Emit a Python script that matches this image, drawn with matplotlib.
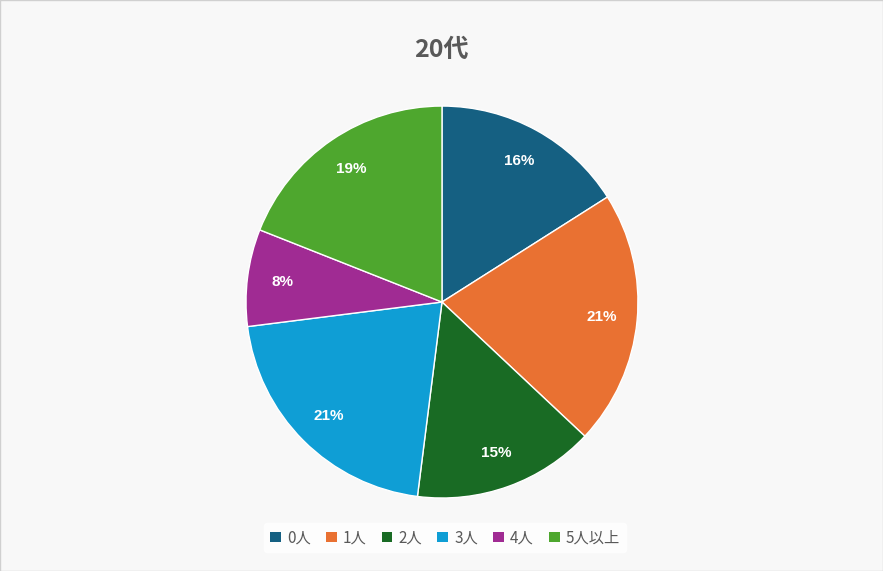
import matplotlib
matplotlib.use("Agg")
import matplotlib.pyplot as plt
from matplotlib.patches import Patch

plt.rcParams['font.family'] = ['Noto Sans CJK JP', 'DejaVu Sans']

title = "20代"
categories = ["0人", "1人", "2人", "3人", "4人", "5人以上"]
values = [16, 21, 15, 21, 8, 19]
colors = ["#156082", "#e97132", "#196b24", "#0f9ed5", "#a02b93", "#4ea72e"]

fig = plt.figure(figsize=(8.83, 5.71), dpi=100)
fig.patch.set_facecolor("#f8f8f8")
fig.add_artist(plt.Rectangle((0, 0), 1, 1, transform=fig.transFigure, fill=False,
                             edgecolor="#d0d0d0", lw=1))
ax = fig.add_axes([0.2786, 0.1278, 0.4439, 0.6865])
wedges, texts, autotexts = ax.pie(values, colors=colors, startangle=90, counterclock=False,
                                  autopct=lambda p: f"{p:.0f}%", pctdistance=0.82,
                                  radius=1, wedgeprops=dict(edgecolor="white", linewidth=1))
for t in autotexts:
    t.set_color("white"); t.set_fontweight("bold"); t.set_fontsize(11)
    t.set_family(['Liberation Sans', 'DejaVu Sans'])
ax.set_xlim(-1, 1); ax.set_ylim(-1, 1); ax.set_aspect('equal')
ax.axis('off')

fig.text(0.5, 0.912, title, ha='center', va='center', fontsize=18, fontweight='bold', color="#595959")

handles = [Patch(facecolor=c, label=l) for c, l in zip(colors, categories)]
leg = fig.legend(handles=handles, loc='center', bbox_to_anchor=(0.504, 0.058), ncol=6,
                 frameon=True, fontsize=11, handlelength=0.7, handleheight=0.7,
                 handletextpad=0.4, columnspacing=1.0, labelcolor="#595959")
leg.get_frame().set_facecolor("white"); leg.get_frame().set_edgecolor("white")
fig.savefig("out.png", dpi=100, facecolor=fig.get_facecolor())
